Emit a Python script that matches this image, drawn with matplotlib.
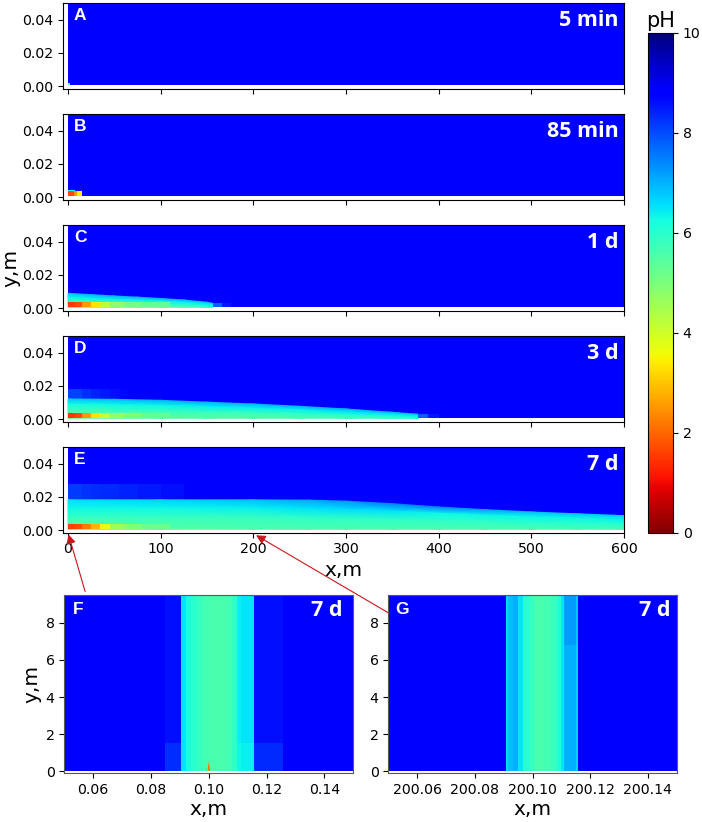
import matplotlib
matplotlib.use('Agg')
import matplotlib.pyplot as plt
import numpy as np
from matplotlib.cm import ScalarMappable
from matplotlib.colors import Normalize

W, H = 702, 822
BG = 8.9
Y0 = 0.0006

# ---- plume tables: x knot, plume top, pH at top / upper / lower / bottom of plume
C_x = [0, 25, 50, 75, 100, 125, 150, 156]
C_top = [0.0090, 0.0082, 0.0074, 0.0067, 0.0059, 0.0050, 0.0036, 0.0030]
C_ph = [[6.9, 7.0, 7.0, 7.0, 7.0, 7.0, 6.9, 6.8],
        [6.3, 6.4, 6.4, 6.4, 6.4, 6.4, 6.5, 6.5],
        [5.8, 5.8, 5.8, 5.9, 6.0, 6.0, 6.2, 6.3],
        [5.0, 5.1, 5.2, 5.3, 5.4, 5.6, 5.9, 6.2]]
D_x = [0, 50, 100, 150, 200, 250, 300, 350, 378]
D_top = [0.0122, 0.0120, 0.0114, 0.0103, 0.0092, 0.0078, 0.0062, 0.0042, 0.0030]
D_ph = [[6.8, 6.9, 7.0, 7.0, 7.0, 7.0, 7.0, 7.0, 6.9],
        [6.2, 6.3, 6.3, 6.4, 6.4, 6.4, 6.5, 6.5, 6.6],
        [5.7, 5.7, 5.8, 5.8, 5.8, 5.9, 6.0, 6.1, 6.3],
        [5.2, 5.3, 5.4, 5.5, 5.5, 5.6, 5.7, 5.9, 6.2]]
E_x = [0, 100, 200, 260, 300, 350, 400, 450, 500, 550, 600]
E_top = [0.0183, 0.0183, 0.0183, 0.0181, 0.0175, 0.0160, 0.0140, 0.0124, 0.0110, 0.0099, 0.0088]
E_ph = [[6.6, 6.7, 6.9, 7.1, 7.3, 7.5, 7.5, 7.2, 6.9, 6.8, 6.7],
        [6.3, 6.3, 6.4, 6.5, 6.6, 6.5, 6.3, 6.3, 6.3, 6.3, 6.4],
        [5.8, 5.8, 5.8, 5.9, 5.9, 5.9, 5.9, 5.9, 6.0, 6.0, 6.0],
        [5.3, 5.5, 5.6, 5.6, 5.6, 5.6, 5.6, 5.6, 5.6, 5.7, 5.7]]

# ---- acid strip along the wall: column edges and pH, one strip per panel
B_acid_x = [0, 6, 10, 15]
B_acid_ph = [1.7, 2.5, 3.4]
C_acid_x = [0, 8, 15, 25, 35, 45, 60, 80, 110]
C_acid_ph = [1.5, 1.7, 2.5, 3.3, 4.2, 4.8, 5.1, 5.3]
D_acid_x = [0, 8, 15, 25, 35, 45, 60, 80, 110]
D_acid_ph = [1.5, 1.7, 2.5, 3.3, 4.1, 4.7, 5.0, 5.3]
E_acid_x = [0, 8, 15, 25, 35, 45, 60, 80, 110]
E_acid_ph = [1.6, 1.7, 2.2, 2.8, 3.7, 4.6, 4.9, 5.2]

# ---- front cells and faint bands
C_front_x = [156, 166, 176]
C_front_ph = [7.8, 8.5]
D_front_x = [378, 388, 400]
D_front_ph = [7.8, 8.5]
D_band_x = [0, 15, 25, 35, 45, 55, 65, 75]
D_band_ph = [8.1, 8.3, 8.4, 8.5, 8.6, 8.7, 8.8]
E_band_x = [0, 15, 25, 35, 55, 75, 100, 125, 145]
E_band_ph = [8.2, 8.25, 8.3, 8.35, 8.4, 8.5, 8.6, 8.8]

# ---- cross-sections F and G (zoom panels): column edges and pH
F_x = [0.05, 0.085, 0.0904, 0.092, 0.094, 0.096, 0.098, 0.100, 0.102, 0.104, 0.106,
       0.108, 0.1096, 0.111, 0.1156, 0.1256, 0.15]
F_ph_upper = [8.9, 8.6, 6.5, 6.2, 6.0, 5.8, 5.7, 5.6, 5.6, 5.6, 5.7, 5.9, 6.4, 6.5, 8.6, 8.9]
F_ph_lower = [8.9, 8.3, 6.5, 6.2, 6.0, 5.8, 5.7, 5.6, 5.6, 5.6, 5.7, 5.9, 6.3, 6.4, 8.35, 8.9]
F_split = [0.03, 1.5, 9.5]
F_spike_x = [0.0995, 0.1, 0.1005]
F_spike_top = 0.55
F_spike_ph = 2.2

G_x = [200.05, 200.0908, 200.0916, 200.0932, 200.0948, 200.0968, 200.099, 200.101,
       200.104, 200.1065, 200.1085, 200.1098, 200.111, 200.1152, 200.1159, 200.15]
G_ph_upper = [8.9, 6.6, 6.9, 7.0, 6.5, 6.0, 5.8, 5.6, 5.7, 5.8, 6.1, 6.5, 7.2, 6.8, 8.9]
G_ph_lower = [8.9, 6.6, 6.9, 7.0, 6.5, 6.0, 5.8, 5.6, 5.7, 5.8, 6.1, 6.5, 7.0, 6.7, 8.9]
G_split = [0.03, 6.8, 9.5]

# ---- labels
panel_letters = ['A', 'B', 'C', 'D', 'E']
panel_times = ['5 min', '85 min', '1 d', '3 d', '7 d']
panel_tops = [3, 114, 225, 336, 447]
PANEL_H = 85.7
y_ticks = [0.00, 0.02, 0.04]
x_ticks = [0, 100, 200, 300, 400, 500, 600]
cs_y_ticks = [0, 2, 4, 6, 8]
F_ticks = [0.06, 0.08, 0.10, 0.12, 0.14]
G_ticks = [200.06, 200.08, 200.10, 200.12, 200.14]
cb_ticks = [0, 2, 4, 6, 8, 10]

plt.rcParams['font.family'] = 'DejaVu Sans'
TICK = 10.2
LAB = 14.5
norm = Normalize(0, 10)
cmap = 'jet_r'

fig = plt.figure(figsize=(W / 100, H / 100), dpi=100)


def box(left, top, right, bottom):
    return [left / W, 1 - bottom / H, (right - left) / W, (bottom - top) / H]


def mesh(ax, x, y, v, **kw):
    return ax.pcolormesh(x, y, v, cmap=cmap, norm=norm, **kw)


def plume(ax, x, top, ph):
    x = np.array(x, float)
    top = np.array(top)
    X = np.vstack([x] * 4)
    Y = np.vstack([top, top * 0.72, top * 0.4, np.full_like(top, Y0)])
    mesh(ax, X, Y, np.array(ph), shading='gouraud', rasterized=True)


def cells(ax, x, y1, y2, ph):
    mesh(ax, np.array(x), np.array([y1, y2]), np.array([ph]), shading='flat')


axes = []
for i, top in enumerate(panel_tops):
    ax = fig.add_axes(box(63, top, 624, top + PANEL_H))
    ax.set_xlim(-5.4, 600)
    ax.set_ylim(-0.00145, 0.05)
    cells(ax, [0, 600], Y0, 0.05, [BG])
    ax.set_xticks(x_ticks)
    ax.set_yticks(y_ticks)
    ax.set_yticklabels(['%.2f' % t for t in y_ticks])
    ax.tick_params(labelsize=TICK, labelbottom=(i == 4))
    ax.text(0.0195, 0.85, panel_letters[i], transform=ax.transAxes, color='white',
            family='Liberation Sans', weight='bold', fontsize=12.5, ha='left', va='center')
    ax.text(0.991, 0.80, panel_times[i], transform=ax.transAxes, color='white',
            family='Open Sans', weight='bold', fontsize=15.5, ha='right', va='center')
    axes.append(ax)

axA, axB, axC, axD, axE = axes

# A: tiny sliver
cells(axA, [0, 2], Y0, 0.0022, [5.5])

# B
cells(axB, [0, 8], 0.0036, 0.0045, [6.2])
cells(axB, [8, 15], 0.0036, 0.0038, [5.0])
cells(axB, B_acid_x, Y0, 0.0036, B_acid_ph)

# C
plume(axC, C_x, C_top, C_ph)
cells(axC, C_front_x, Y0, 0.0030, C_front_ph)
cells(axC, C_acid_x, Y0, 0.0036, C_acid_ph)

# D
cells(axD, D_band_x, 0.0122, 0.018, D_band_ph)
plume(axD, D_x, D_top, D_ph)
cells(axD, D_front_x, Y0, 0.0030, D_front_ph)
cells(axD, D_acid_x, Y0, 0.0036, D_acid_ph)

# E
cells(axE, E_band_x, 0.0183, 0.028, E_band_ph)
plume(axE, E_x, E_top, E_ph)
cells(axE, E_acid_x, Y0, 0.0036, E_acid_ph)

axE.set_xlabel('x,m', fontsize=LAB, labelpad=3)
axC.set_ylabel('y,m', fontsize=LAB, labelpad=1.5)

# F, G
axF = fig.add_axes(box(64.3, 595, 353.3, 773))
axG = fig.add_axes(box(388.3, 595, 676.7, 773))
mesh(axF, np.array(F_x), np.array(F_split), np.array([F_ph_lower, F_ph_upper]), shading='flat')
mesh(axG, np.array(G_x), np.array(G_split), np.array([G_ph_lower, G_ph_upper]), shading='flat')
axF.fill([F_spike_x[0], F_spike_x[1], F_spike_x[2]], [0.03, F_spike_top, 0.03],
         color=plt.get_cmap(cmap)(norm(F_spike_ph)), lw=0)
for ax, xl, tk, letter, lx, tx in [(axF, (0.05, 0.15), F_ticks, 'F', 0.03, 0.962),
                                   (axG, (200.05, 200.15), G_ticks, 'G', 0.023, 0.977)]:
    ax.set_xlim(*xl)
    ax.set_ylim(-0.09, 9.5)
    ax.set_xticks(tk)
    ax.set_xticklabels(['%.2f' % t for t in tk])
    ax.set_yticks(cs_y_ticks)
    ax.tick_params(labelsize=TICK)
    ax.set_xlabel('x,m', fontsize=LAB, labelpad=2)
    ax.text(lx, 0.92, letter, transform=ax.transAxes, color='white',
            family='Liberation Sans', weight='bold', fontsize=12.5, ha='left', va='center')
    ax.text(tx, 0.913, '7 d', transform=ax.transAxes, color='white',
            family='Open Sans', weight='bold', fontsize=15.5, ha='right', va='center')
    for s in ax.spines.values():
        s.set_color('#5c5a4c')
axF.set_ylabel('y,m', fontsize=LAB, labelpad=3)

# Colorbar
cax = fig.add_axes(box(648, 33, 673, 532.5))
cb = fig.colorbar(ScalarMappable(norm=norm, cmap=cmap), cax=cax)
cb.set_ticks(cb_ticks)
cb.ax.tick_params(labelsize=TICK)
cax.set_title('pH', fontsize=15, pad=4)

# Arrows from the zoom panels to their locations on E
arrow = dict(arrowstyle='-|>,head_width=0.28,head_length=0.55', color='#c8161c', lw=0.8,
             shrinkA=0, shrinkB=0)
xt = axE.get_xaxis_transform()
axE.annotate('', xy=(0.5, -0.02), xycoords=xt, xytext=(0.072, 1.02), textcoords=axF.transAxes,
             arrowprops=arrow, annotation_clip=False)
axE.annotate('', xy=(203, -0.03), xycoords=xt, xytext=(0.0, 0.9), textcoords=axG.transAxes,
             arrowprops=arrow, annotation_clip=False)

fig.savefig('out.png', dpi=100)
